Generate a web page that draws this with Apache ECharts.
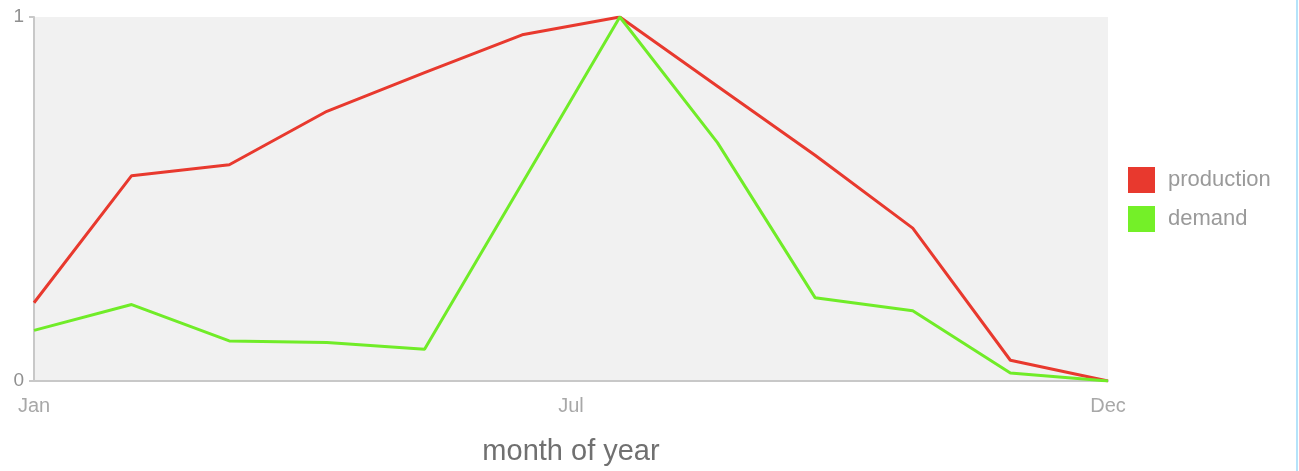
<!DOCTYPE html>
<html>
<head>
<meta charset="utf-8">
<script src="https://cdn.jsdelivr.net/npm/echarts@6/dist/echarts.min.js"></script>
<style>
html,body{margin:0;padding:0;background:#fff;}
#chart{width:1299px;height:471px;}
#edge{position:absolute;left:1296px;top:0;width:2px;height:471px;background:#b5e3fa;}
</style>
</head>
<body>
<div id="chart"></div>
<div id="edge"></div>
<script>
const months = ['Jan','Feb','Mar','Apr','May','Jun','Jul','Aug','Sep','Oct','Nov','Dec'];
const xTickLabels = ['Jan','Jul','Dec'];
const yTickLabels = ['0','1'];
const production = [0.215, 0.564, 0.594, 0.741, 0.847, 0.951, 1.0, 0.81, 0.62, 0.42, 0.057, 0.0];
const demand = [0.139, 0.21, 0.11, 0.106, 0.087, 0.543, 1.0, 0.655, 0.229, 0.193, 0.022, 0.0];

const font = 'Liberation Sans, Arial, sans-serif';
const chart = echarts.init(document.getElementById('chart'), null, {renderer:'canvas'});
const toPairs = arr => arr.map((v, i) => [i, v]);
const step = (months.length - 1) / (xTickLabels.length - 1);

chart.setOption({
  animation: false,
  textStyle: {fontFamily: font},
  grid: {left: 34, right: 191, top: 17, bottom: 87, show: true, backgroundColor: '#f1f1f1', borderWidth: 0},
  legend: {
    orient: 'vertical', left: 1123, top: 162,
    itemWidth: 27, itemHeight: 26, itemGap: 13, icon: 'rect',
    textStyle: {fontSize: 22, color: '#9a9a9a', fontFamily: font, padding: [0,0,0,8]},
    data: ['production','demand']
  },
  xAxis: {
    type: 'value', min: 0, max: months.length - 1, interval: step,
    name: 'month of year', nameLocation: 'middle', nameGap: 56,
    nameTextStyle: {fontSize: 29, color: '#707070', fontFamily: font},
    axisLine: {show: true, lineStyle: {color: '#c8c8c8', width: 2}},
    axisTick: {show: false},
    splitLine: {show: false},
    axisLabel: {
      fontSize: 20, color: '#a8a8a8', margin: 15, fontFamily: font,
      formatter: v => xTickLabels[Math.round(v / step)] || ''
    }
  },
  yAxis: {
    type: 'value', min: 0, max: 1, interval: 1,
    axisLine: {show: true, lineStyle: {color: '#c8c8c8', width: 2}},
    axisTick: {show: true, length: 5, lineStyle: {color: '#c8c8c8', width: 2}},
    splitLine: {show: false},
    axisLabel: {
      fontSize: 19, color: '#909090', margin: 10, fontFamily: font,
      formatter: v => yTickLabels[Math.round(v)]
    }
  },
  series: [
    {name: 'production', type: 'line', data: toPairs(production), symbol: 'none',
     color: '#e8392e', lineStyle: {width: 3, color: '#e8392e'}},
    {name: 'demand', type: 'line', data: toPairs(demand), symbol: 'none',
     color: '#74f028', lineStyle: {width: 3, color: '#70ec28'}}
  ]
});
</script>
</body>
</html>
